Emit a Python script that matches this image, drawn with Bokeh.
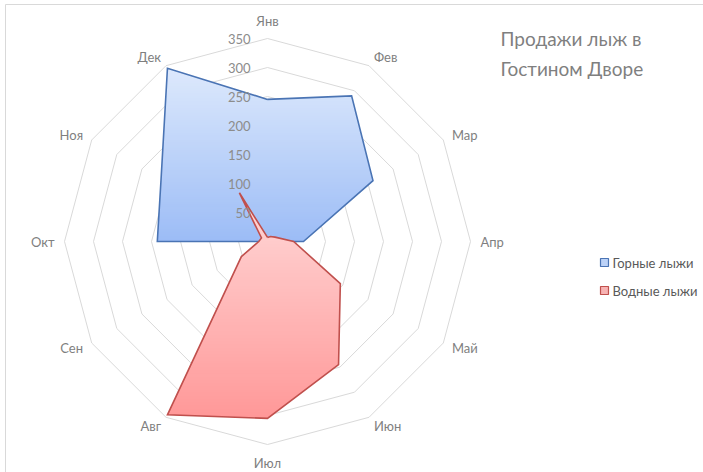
import math
from bokeh.plotting import figure
from bokeh.models import Range1d
from bokeh.core.properties import value
from bokeh.embed import file_html
from bokeh.resources import INLINE

# ---- data ----
months = ['Янв', 'Фев', 'Мар', 'Апр', 'Май', 'Июн', 'Июл', 'Авг', 'Сен', 'Окт', 'Ноя', 'Дек']
alpine = [245, 290, 210, 62, 0, 0, 0, 0, 0, 190, 212, 345]      # Горные лыжи
water = [7, 10, 15, 45, 145, 245, 305, 345, 52, 15, 12, 97]      # Водные лыжи
series_names = ['Горные лыжи', 'Водные лыжи']
rings = [50, 100, 150, 200, 250, 300, 350]
title_lines = ['Продажи лыж в', 'Гостином Дворе']

FONT = value("Lato")
W, H = 703, 472
OX, OY = 0, 0              # figure origin in reference pixels
CX, CY = 267, 241          # centre in reference pixels
K = 203 / 350              # pixels per unit
RMAX = 350


def px(xr, yr):
    """reference pixel -> data coords"""
    return (xr - CX) / K, (CY - yr) / K


def polar(vals):
    n = len(vals)
    xs, ys = [], []
    for i, v in enumerate(vals):
        th = 2 * math.pi * i / n
        xs.append(v * math.sin(th))
        ys.append(v * math.cos(th))
    return xs, ys


x0, y1 = px(OX, OY)
x1, y0 = px(OX + W, OY + H)
p = figure(width=W, height=H, output_backend="svg", toolbar_location=None,
           x_range=Range1d(x0, x1), y_range=Range1d(y0, y1),
           x_axis_location=None, y_axis_location=None, min_border=0)
p.grid.visible = False
p.outline_line_color = None
p.background_fill_color = "white"

# chart-area frame (top and left edges visible in the reference)
fx0, fy0 = px(5, 4)
fx1, fy1 = px(W + 20, H + 20)
p.line([fx0, fx0, fx1], [fy1, fy0, fy0], line_color="#d9d9d9", line_width=1)

# grid polygons
for r in rings:
    gx, gy = polar([r] * 12)
    p.line(gx + [gx[0]], gy + [gy[0]], line_color="#d9d9d9", line_width=1)


def clip(poly, lo, hi):
    def half(pts, keep, inter):
        out = []
        n = len(pts)
        for i in range(n):
            a = pts[i]
            b = pts[(i + 1) % n]
            ia, ib = keep(a), keep(b)
            if ia:
                out.append(a)
                if not ib:
                    out.append(inter(a, b))
            elif ib:
                out.append(inter(a, b))
        return out

    def ix(a, b, yv):
        t = (yv - a[1]) / (b[1] - a[1])
        return (a[0] + t * (b[0] - a[0]), yv)

    pts = half(poly, lambda q: q[1] >= lo, lambda a, b: ix(a, b, lo))
    if not pts:
        return []
    pts = half(pts, lambda q: q[1] <= hi, lambda a, b: ix(a, b, hi))
    return pts


def gradient_patch(vals, ctop, cbot, edge):
    xs, ys = polar(vals)
    poly = list(zip(xs, ys))
    ymin, ymax = min(ys), max(ys)
    n = 70
    step = (ymax - ymin) / n
    pxs, pys, cols = [], [], []
    for i in range(n):
        lo = ymin + i * step
        hi = lo + step * 1.6
        c = clip(poly, lo, min(hi, ymax))
        if len(c) < 3:
            continue
        t = (lo + step / 2 - ymin) / (ymax - ymin)   # 0 bottom, 1 top
        col = tuple(int(round(cbot[j] + (ctop[j] - cbot[j]) * t)) for j in range(3))
        pxs.append([q[0] for q in c])
        pys.append([q[1] for q in c])
        cols.append("#%02x%02x%02x" % col)
    p.patches(pxs, pys, fill_color=cols, line_color=None)
    p.line(xs + [xs[0]], ys + [ys[0]], line_color=edge, line_width=1.6, line_join="miter")


gradient_patch(alpine, (221, 233, 252), (156, 188, 246), "#4a74b4")
gradient_patch(water, (255, 217, 217), (255, 152, 152), "#c0504d")

# radial tick labels
lx = [px(250, 0)[0]] * len(rings)
ly = [r for r in rings]
p.text(lx, ly, text=[str(r) for r in rings], text_align="right", text_baseline="middle",
       text_font=FONT, text_font_size="13px", text_color="#8c8c8c")

# month labels
mx, my, al = [], [], []
for i, m in enumerate(months):
    th = 2 * math.pi * i / 12
    s, c = math.sin(th), math.cos(th)
    d = 18 if abs(s) < 0.1 else 10
    r = RMAX + d / K
    mx.append(r * s)
    my.append(r * c)
    al.append("left" if s > 0.1 else ("right" if s < -0.1 else "center"))
p.text(mx, my, text=months, text_align=al, text_baseline="middle",
       text_font=FONT, text_font_size="13px", text_color="#7f7f7f")

# title
tx, ty1 = px(500, 38)
_, ty2 = px(500, 68)
p.text([tx, tx], [ty1, ty2], text=title_lines, text_align="left", text_baseline="middle",
       text_font=FONT, text_font_size="19px", text_color="#7f7f7f")

# legend
lgx, lg1 = px(604, 262)
_, lg2 = px(604, 290)
sz = 8 / K
p.rect([lgx, lgx], [lg1, lg2], width=sz, height=sz,
       fill_color=["#bcd2f7", "#f7b3b3"], line_color=["#4a74b4", "#c0504d"], line_width=1.2)
ltx, _ = px(612, 0)
p.text([ltx, ltx], [lg1, lg2], text=series_names, text_align="left", text_baseline="middle",
       text_font=FONT, text_font_size="13px", text_color="#595959")

open("out.html", "w").write(file_html(p, INLINE))
